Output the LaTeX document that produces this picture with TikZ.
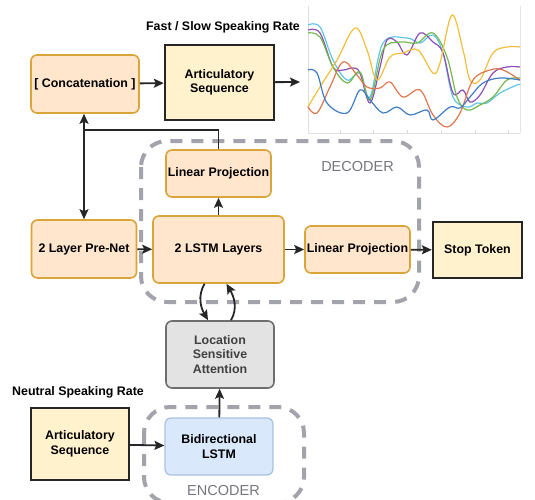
\documentclass[tikz,border=0pt]{standalone}
\usepackage{fontspec}
\setmainfont{Liberation Sans}
\usetikzlibrary{arrows.meta}

\definecolor{peach}{HTML}{FFE6CC}
\definecolor{peachline}{HTML}{D9A43A}
\definecolor{lightyellow}{HTML}{FFF2CC}
\definecolor{attgray}{HTML}{E3E3E3}
\definecolor{attline}{HTML}{6E6E6E}
\definecolor{lightblue}{HTML}{DAE8FC}
\definecolor{blueline}{HTML}{A9C1E0}
\definecolor{dashgray}{HTML}{A3A3AB}
\definecolor{labelgray}{HTML}{75757D}
\definecolor{cblue}{HTML}{3F7CC4}
\definecolor{cred}{HTML}{E0764E}
\definecolor{cyellow}{HTML}{F2BE3C}
\definecolor{cpurple}{HTML}{8E4FB4}
\definecolor{cgreen}{HTML}{74B84E}
\definecolor{ccyan}{HTML}{5FC6EA}

\begin{document}
\begin{tikzpicture}[x=1pt, y=-1pt, font=\fontsize{12.4}{14.5}\selectfont\bfseries,
        layer/.style={draw=peachline, fill=peach, line width=1.6pt, rounded corners=6pt, align=center, inner sep=0pt},
        seqbox/.style={draw=black!85, fill=lightyellow, line width=2.4pt, align=center, inner sep=0pt},
        part/.style={draw=dashgray, line width=4pt, dash pattern=on 12pt off 9pt, rounded corners=26pt},
        partlabel/.style={text=labelgray, font=\fontsize{14.5}{16}\selectfont},
        arr/.style={-{Stealth[length=10pt, width=9pt, inset=2pt]}, line width=1.8pt, black!85}]
        \useasboundingbox (0,0) rectangle (535,500);

        % dashed parts
        \draw[part] (141,141) rectangle (419,302);
        \draw[part] (144,407) rectangle (304,503);
        \node[partlabel] (dec) at (357.5,167) {DECODER};
        \node[partlabel] (enc) at (223.5,491) {ENCODER};

        % plot of output trajectories
        \draw[gray!25, line width=0.5pt] (308,133) -- (308,6) (308,133) -- (520,133);
        \draw[gray!20, line width=0.5pt] (520,133) -- (520,6);
        \foreach \t in {340,373,407,441,475,508} \draw[gray!30, line width=0.4pt] (\t,133) -- (\t,130);
        \draw[ccyan, line width=1.2pt] plot[smooth, tension=0.6] coordinates {(308,25) (320,27) (333,60) (347,80) (360,73) (370,97) (383,43) (407,38) (420,43) (433,35) (443,53) (453,97) (467,107) (477,103) (487,103) (500,93) (517,85) (520,85)};
        \draw[cpurple, line width=1.2pt] plot[smooth, tension=0.6] coordinates {(308,30) (320,33) (333,67) (343,70) (353,68) (360,73) (370,103) (380,67) (387,40) (397,42) (407,55) (420,33) (433,42) (443,53) (453,93) (463,90) (470,102) (480,95) (493,73) (507,67) (520,67)};
        \draw[cgreen, line width=1.2pt] plot[smooth, tension=0.6] coordinates {(308,33) (320,37) (333,67) (347,83) (360,72) (370,100) (383,50) (400,42) (417,43) (433,33) (447,57) (457,97) (467,110) (480,105) (493,97) (507,80) (520,78)};
        \draw[cyellow, line width=1.2pt] plot[smooth, tension=0.6] coordinates {(308,107) (320,87) (337,60) (355,28) (367,50) (377,80) (390,57) (403,53) (418,50) (433,73) (440,63) (452,15) (463,50) (470,80) (480,80) (493,53) (507,47) (520,47)};
        \draw[cred, line width=1.2pt] plot[smooth, tension=0.6] coordinates {(308,107) (317,113) (330,87) (343,62) (357,75) (367,87) (380,88) (390,82) (403,97) (420,90) (433,115) (447,127) (460,113) (473,80) (490,70) (503,70) (520,80)};
        \draw[cblue, line width=1.2pt] plot[smooth, tension=0.6] coordinates {(308,70) (317,73) (327,103) (347,113) (360,90) (370,100) (383,113) (397,107) (410,115) (427,110) (433,120) (450,107) (460,108) (470,97) (483,83) (500,78) (520,80)};
        \coordinate (plotin) at (300,82);

        % boxes
        \node (rate) at (223,27) {Fast / Slow Speaking Rate};
        \node[layer, minimum width=108pt, minimum height=58pt] (concat) at (85,84) {[ Concatenation ]};
        \node[seqbox, minimum width=109pt, minimum height=75pt] (seqout) at (219.5,82.5) {Articulatory\\Sequence};
        \node[layer, minimum width=105pt, minimum height=47pt] (projmel) at (218.5,173.5) {Linear Projection};
        \node[layer, minimum width=105pt, minimum height=58pt] (prenet) at (84,249) {2 Layer Pre-Net};
        \node[layer, minimum width=131pt, minimum height=67pt] (lstm) at (218.5,249.5) {2 LSTM Layers};
        \node[layer, minimum width=105pt, minimum height=47pt] (projstop) at (357.5,249.5) {Linear Projection};
        \node[seqbox, minimum width=89pt, minimum height=56pt] (stop) at (477.5,250) {Stop Token};
        \node[draw=attline, fill=attgray, text=black!75, line width=1.6pt, rounded corners=6pt, align=center,
              minimum width=108pt, minimum height=67pt] (attn) at (220,354.5) {Location\\Sensitive\\Attention};
        \node (neutral) at (78,392) {Neutral Speaking Rate};
        \node[seqbox, minimum width=98pt, minimum height=72pt] (seqin) at (80,444) {Articulatory\\Sequence};
        \node[draw=blueline, fill=lightblue, line width=1.2pt, rounded corners=6pt, align=center,
              minimum width=108pt, minimum height=57pt] (bilstm) at (219,446.5) {Bidirectional\\LSTM};

        % connections
        \coordinate (fb) at (84,130);
        \draw[arr] (concat) to (seqout);
        \draw[arr] (seqout) to (plotin);
        \draw[line width=1.8pt, black!85] (projmel.north) |- (fb);
        \draw[arr] (fb) to (fb |- concat.south);
        \draw[arr] (fb) to (fb |- prenet.north);
        \draw[arr] (prenet) to (lstm);
        \draw[arr] (lstm) to (projmel);
        \draw[arr] (lstm) to (projstop);
        \draw[arr] (projstop) to (stop);
        \draw[arr] ([xshift=-14pt]lstm.south) to[out=-120, in=120] ([xshift=-12pt]attn.north);
        \draw[arr] ([xshift=11pt]attn.north) to[out=60, in=-60] ([xshift=8pt]lstm.south);
        \draw[arr] (bilstm) to (attn);
        \draw[arr] (seqin) to (bilstm);
      \end{tikzpicture}
\end{document}
